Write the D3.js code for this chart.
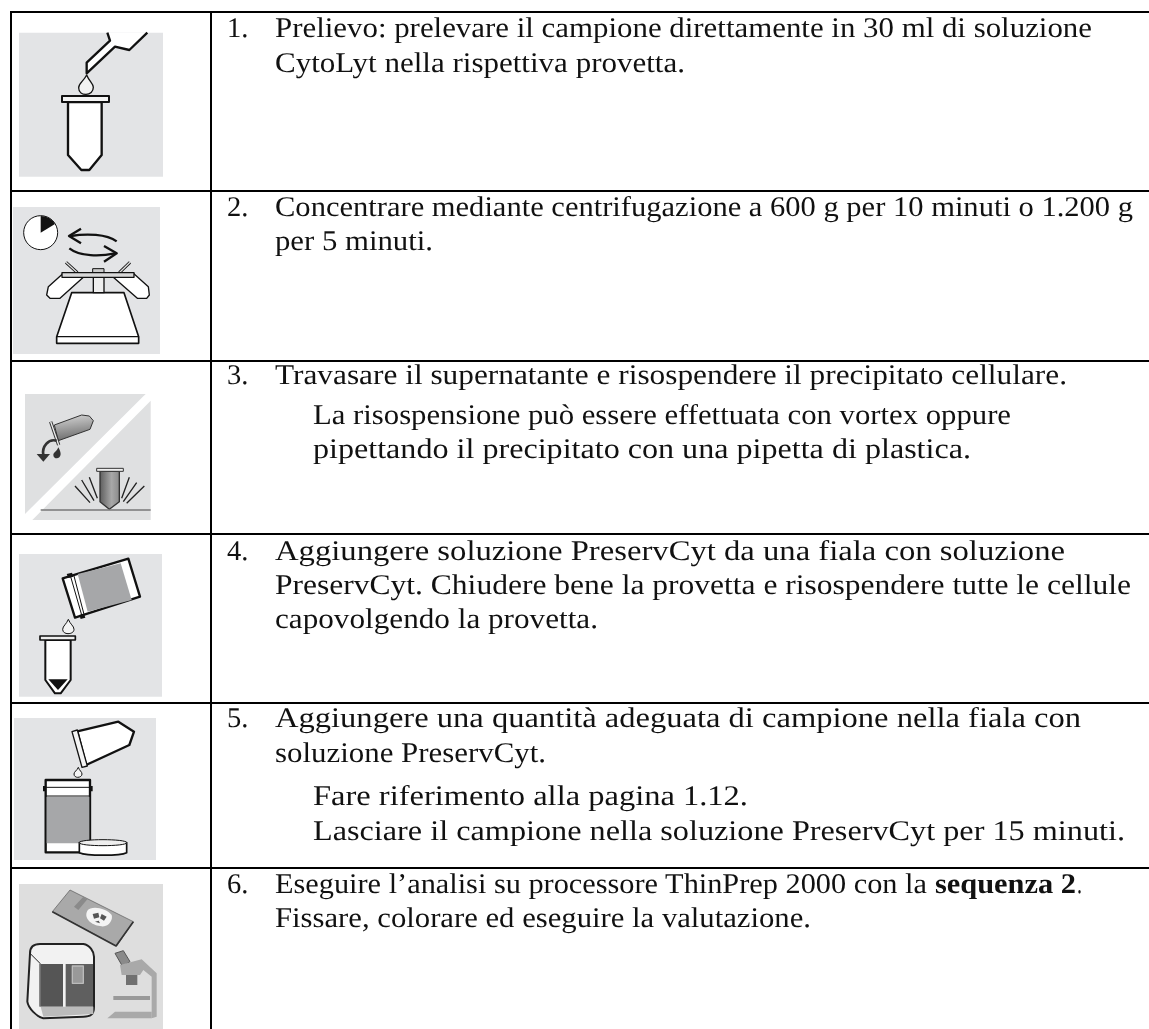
<!DOCTYPE html>
<html>
<head>
<meta charset="utf-8">
<script src="https://cdn.jsdelivr.net/npm/d3@7"></script>
<style>
  html, body { margin: 0; padding: 0; background: #fff; overflow: hidden; }
  svg { filter: blur(0.3px); }
  text { font-family: "Liberation Serif", serif; font-size: 28.5px; fill: #111; text-rendering: geometricPrecision; }
</style>
</head>
<body>
<svg id="chart" width="1149" height="1029"></svg>
<script>
const steps = ["1.", "2.", "3.", "4.", "5.", "6."];
const runText = [
  "Prelievo: prelevare il campione direttamente in 30 ml di soluzione",
  "CytoLyt nella rispettiva provetta.",
  "Concentrare mediante centrifugazione a 600 g per 10 minuti o 1.200 g",
  "per 5 minuti.",
  "Travasare il supernatante e risospendere il precipitato cellulare.",
  "La risospensione può essere effettuata con vortex oppure",
  "pipettando il precipitato con una pipetta di plastica.",
  "Aggiungere soluzione PreservCyt da una fiala con soluzione",
  "PreservCyt. Chiudere bene la provetta e risospendere tutte le cellule",
  "capovolgendo la provetta.",
  "Aggiungere una quantità adeguata di campione nella fiala con",
  "soluzione PreservCyt.",
  "Fare riferimento alla pagina 1.12.",
  "Lasciare il campione nella soluzione PreservCyt per 15 minuti.",
  "Eseguire l’analisi su processore ThinPrep 2000 con la",
  "sequenza 2",
  ".",
  "Fissare, colorare ed eseguire la valutazione."
];
const runBold = new Set(["sequenza 2"]);

// layout
const rowEdges = [12, 191, 361, 534, 703, 868];
const numberBaselines = [37, 216, 384, 560, 727, 893];
const runBaselines = [37, 72, 216, 250, 384, 424, 458, 560, 594, 628, 727, 762, 805, 840, 893, 893, 893, 927];
const runStart = [275, 275, 275, 275, 275, 313, 313, 275, 275, 275, 275, 275, 313, 313, 275, 935, 1077, 275];
const runEnd = [1092, 685, 1133, 433, 1067, 1011, 971, 1065, 1131, 598, 1081, 546, 748, 1125, 927, 1076, 1082, 811];
const colEdges = [11, 211];

const svg = d3.select("#chart");
const width = 1149, height = 1029;

const rowY = d3.scaleOrdinal(steps, rowEdges);
const numberY = d3.scaleOrdinal(steps, numberBaselines);

// Icons are traced in 3x crop coordinates, so each group scales back down
function icon(offsetY, shapes) {
  const g = svg.append("g").attr("transform", `translate(0,${offsetY}) scale(${1 / 3})`);
  shapes.forEach(s => {
    g.append("path")
      .attr("d", s[0])
      .attr("fill", s[1] || "none")
      .attr("stroke", s[2] || "none")
      .attr("stroke-width", s[3] || 0)
      .attr("stroke-linejoin", "round")
      .attr("stroke-linecap", s[4] || "butt");
  });
  return g;
}

const defs = svg.append("defs");
const grad1 = defs.append("linearGradient").attr("id", "tubeA").attr("x1", 0).attr("y1", 0).attr("x2", 0.2).attr("y2", 1);
grad1.append("stop").attr("offset", 0).attr("stop-color", "#d8d8d8");
grad1.append("stop").attr("offset", 1).attr("stop-color", "#6f6f6f");
const grad2 = defs.append("linearGradient").attr("id", "tubeB");
grad2.append("stop").attr("offset", 0).attr("stop-color", "#5f5f5f");
grad2.append("stop").attr("offset", 0.6).attr("stop-color", "#a8a8a8");
grad2.append("stop").attr("offset", 1).attr("stop-color", "#8a8a8a");

const bg = "#e3e4e6";
const ink = "#111";

// step 1: pipette and tube
icon(0, [
  ["M57,98H489V530H57Z", bg],
  ["M322,98L330,122L260,188L260,220L345,140L388,150L442,98", "#fff", ink, 7],
  ["M260,225C250,245 236,250 236,263C236,278 248,283 258,283C270,283 280,275 280,262C280,250 268,245 260,225Z", "#f2f2f2", ink, 4],
  ["M204,306V465L244,510H268L305,465V306Z", "#fff", ink, 7],
  ["M186,288H327V306H186Z", "#f4f4f4", ink, 6]
]);

// step 2: clock and centrifuge
icon(0, [
  ["M39,621H480V1062H39Z", bg],
  ["M71,698A51,51 0 1 0 173,698A51,51 0 1 0 71,698Z", "#fff", ink, 3],
  ["M122,698V648A50,50 0 0 1 165,672Z", ink],
  ["M350,724C320,702 260,700 212,708", null, ink, 7],
  ["M243,686L207,708L243,730", null, ink, 7],
  ["M208,745C240,770 300,770 345,760", null, ink, 7],
  ["M312,738L350,760L312,785", null, ink, 7],
  ["M215,878L170,1010V1030H416V1010L372,878Z", "#fff", ink, 5],
  ["M170,1010H416", null, ink, 4],
  ["M280,832H312V878H280Z", "#eee", ink, 4],
  ["M190,820L145,860L140,885L150,895H180L250,832Z", "#fff", ink, 4],
  ["M400,820L445,860L448,885L440,895H412L340,832Z", "#fff", ink, 4],
  ["M198,787L232,818", null, ink, 9],
  ["M198,787L232,818", null, "#ddd", 4],
  ["M390,787L358,818", null, ink, 9],
  ["M390,787L358,818", null, "#ddd", 4],
  ["M278,806H312V818H278Z", "#ccc", ink, 3],
  ["M186,818H402V832H186Z", "#d8d8d8", ink, 4]
]);

// step 3: pour off and vortex
icon(350, [
  ["M75,132H437L75,492Z", "#dfe0e1"],
  ["M452,152V510H97Z", "#dfe0e1"],
  ["M163,225L245,195L268,198L280,212L270,238L175,272Z", "url(#tubeA)", "#333", 3],
  ["M152,215L176,285", null, "#333", 10],
  ["M152,215L176,285", null, "#eee", 4],
  ["M170,272C145,265 125,290 130,315", null, "#333", 8],
  ["M110,312H150L130,335Z", "#333"],
  ["M175,292C170,305 160,308 160,315C160,325 172,328 178,322C185,315 182,305 175,292Z", "#333"],
  ["M300,364V455L328,478L358,455V364Z", "url(#tubeB)", "#333", 4],
  ["M290,355H370V364H290Z", "#eee", "#333", 3],
  ["M122,480H452", null, "#777", 4],
  ["M225,408L270,458M245,390L282,452M268,382L292,445M388,382L365,445M410,398L370,455M433,408L380,460", null, "#222", 4]
]);

// step 4: bottle into tube
icon(350, [
  ["M57,612H486V1040H57Z", bg],
  ["M188,685L385,626L420,740L225,803Z", "#fff", ink, 7],
  ["M233,672L362,640L395,750L263,785Z", "#a6a7a9"],
  ["M212,680L245,795M222,678L252,793", null, ink, 3],
  ["M200,672L216,668L220,680L205,684ZM238,795L252,791L256,803L242,807Z", ink],
  ["M205,808C200,822 188,828 188,838C188,847 196,851 204,851C213,851 222,847 222,838C222,828 210,822 205,808Z", "#f4f4f4", ink, 3],
  ["M136,870V990L165,1030H182L212,990V870Z", "#fff", ink, 6],
  ["M145,988H203L174,1020Z", ink],
  ["M120,858H226V870H120Z", "#eee", ink, 5]
]);

// step 5: tube into jar
icon(690, [
  ["M42,84H468V510H42Z", bg],
  ["M232,124L355,95L402,125L388,165L258,225Z", "#fff", ink, 7],
  ["M216,125L232,120L262,228L246,232Z", "#f4f4f4", ink, 4],
  ["M235,232C231,242 222,245 222,252C222,259 228,262 233,262C240,262 246,258 246,252C246,245 238,242 235,232Z", "#f4f4f4", ink, 3],
  ["M137,270H270V487H137Z", "#fff", ink, 7],
  ["M140,320H268V460H140Z", "#a6a7a9"],
  ["M137,292H270M137,318H270", null, ink, 3],
  ["M129,288H137V304H129ZM270,288H278V304H270Z", ink],
  ["M238,458V488C260,498 360,498 380,488V458Z", "#fff", ink, 5],
  ["M238,458C238,446 380,446 380,458C380,470 238,470 238,458Z", "#eee", ink, 3]
]);

// step 6: slide, processor and microscope
icon(690, [
  ["M57,582H489V1017H57Z", "#dedede"],
  ["M210,600L400,695L350,768L157,665Z", "#a9a9a9", "#555", 2],
  ["M157,665L348,768L400,695", null, "#333", 5],
  ["M222,650L250,620L262,628L235,660Z", "#8a8a8a"],
  ["M262,662C275,645 320,655 335,675C340,690 325,715 300,708C275,705 250,685 262,662Z", "#f4f4f4"],
  ["M278,672L295,668L298,682L282,686ZM305,672L320,680L312,692L300,685ZM285,695L300,700L296,692Z", "#555"],
  ["M90,790C90,770 100,762 120,762H250C270,765 282,785 282,800V950C282,975 270,980 250,980L130,985C110,980 85,955 82,935Z", "#f2f2f2", "#222", 6],
  ["M122,822H189V950H122Z", "#555"],
  ["M197,822H279V950H197Z", "#5f5f5f"],
  ["M122,950H280V972L130,980Z", "#bbb"],
  ["M217,828H250V880H217Z", "#999", "#bbb", 4],
  ["M90,790L120,820V950", null, "#222", 3],
  ["M345,790L370,782L390,815L368,830Z", "#8a8a8a", "#555", 3],
  ["M378,855H412V885H378Z", "#707070"],
  ["M360,825L425,808L470,850V980L455,985V860L430,840L420,855H365Z", "#a9a9a9"],
  ["M340,918H450V930H340Z", "#999"],
  ["M322,985L345,965H455V985Z", "#a9a9a9"]
]);

// Table rules
svg.selectAll("line.row")
  .data(steps)
  .enter()
  .append("line")
  .attr("class", "row")
  .attr("x1", colEdges[0] - 1)
  .attr("x2", width)
  .attr("y1", d => rowY(d))
  .attr("y2", d => rowY(d))
  .attr("stroke", "#000")
  .attr("stroke-width", 2);

svg.selectAll("line.col")
  .data(colEdges)
  .enter()
  .append("line")
  .attr("class", "col")
  .attr("x1", d => d)
  .attr("x2", d => d)
  .attr("y1", rowEdges[0] - 1)
  .attr("y2", height)
  .attr("stroke", "#000")
  .attr("stroke-width", 2);

// Step numbers
svg.selectAll("text.num")
  .data(steps)
  .enter()
  .append("text")
  .attr("class", "num")
  .attr("x", 227)
  .attr("y", d => numberY(d))
  .text(d => d);

// Step text, stretched to the measured width of each line
svg.selectAll("text.run")
  .data(runText)
  .enter()
  .append("text")
  .attr("class", "run")
  .attr("x", (d, i) => runStart[i])
  .attr("y", (d, i) => runBaselines[i])
  .attr("font-weight", d => runBold.has(d) ? "bold" : null)
  .attr("textLength", (d, i) => runEnd[i] - runStart[i])
  .attr("lengthAdjust", "spacingAndGlyphs")
  .text(d => d);
</script>
</body>
</html>
